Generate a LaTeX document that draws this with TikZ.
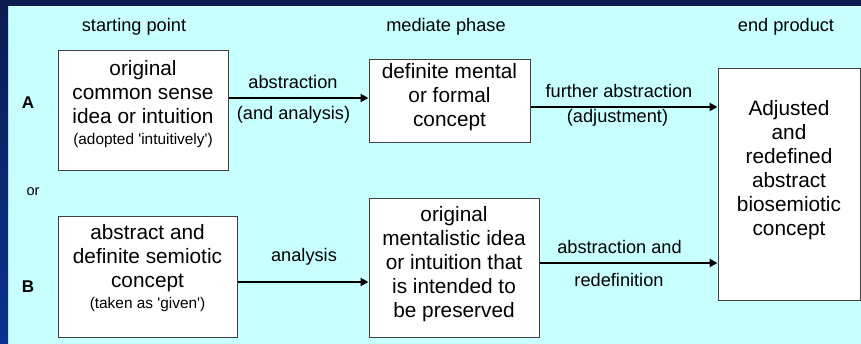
\documentclass[tikz,border=0pt]{standalone}
\usepackage{fontspec}
\setmainfont{Liberation Sans}
\usetikzlibrary{arrows.meta}
\definecolor{bgcyan}{RGB}{200,255,255}
\definecolor{navytop}{RGB}{10,28,80}
\definecolor{navybot}{RGB}{10,50,145}
\definecolor{boxline}{RGB}{64,64,64}
\begin{document}
\begin{tikzpicture}[x=1pt,y=-1pt,
  boxnode/.style={draw=boxline,line width=1pt,fill=white,inner sep=0pt},
  big/.style={font=\fontsize{20.8}{24}\selectfont,align=center,inner sep=0pt},
  lbl/.style={font=\fontsize{18.2}{21}\selectfont,inner sep=0pt},
  arr/.style={line width=2pt,-{Triangle[length=8pt,width=8pt]}}]
\useasboundingbox (0,0) rectangle (861,344);
\fill[bgcyan] (0,0) rectangle (861,344);
\fill[navytop] (0,0) rectangle (861,6);
\shade[top color=navytop,bottom color=navybot] (0,0) rectangle (8,344);
% headers
\node[lbl] (h1) at (134,27) {starting point};
\node[lbl] (h2) at (446,27) {mediate phase};
\node[lbl] (h3) at (786,27) {end product};
% row labels
\node[font=\fontsize{17}{20}\selectfont\bfseries,inner sep=0pt] (la) at (28,103) {A};
\node[font=\fontsize{17}{20}\selectfont\bfseries,inner sep=0pt] (lb) at (28,287) {B};
\node[font=\fontsize{14.6}{17}\selectfont,inner sep=0pt] (lor) at (33,192) {or};
% boxes
\node[boxnode,minimum width=170,minimum height=120] (a1) at (143,111) {};
\node[boxnode,minimum width=161,minimum height=83] (a2) at (449.5,101.5) {};
\node[boxnode,minimum width=179,minimum height=120] (b1) at (147.5,277) {};
\node[boxnode,minimum width=170,minimum height=138] (b2) at (454,268) {};
\node[boxnode,minimum width=142,minimum height=231] (e) at (789,184.5) {};
% box texts
\node[big] (ta1) at (143,104) {original\\common sense\\idea or intuition\\[-3pt]{\fontsize{15.4}{18}\selectfont (adopted \textquotesingle intuitively\textquotesingle)}};
\node[big] (ta2) at (449.5,97) {definite mental\\or formal\\concept};
\node[big] (tb1) at (147.5,268) {abstract and\\definite semiotic\\concept\\[-3pt]{\fontsize{15.4}{18}\selectfont (taken as \textquotesingle given\textquotesingle)}};
\node[big] (tb2) at (454,264) {original\\mentalistic idea\\or intuition that\\is intended to\\be preserved};
\node[big] (te) at (789,170) {Adjusted\\and\\redefined\\abstract\\biosemiotic\\concept};
% arrow rows
\coordinate (ya) at (0,98);
\coordinate (yb) at (0,107);
\coordinate (yc) at (0,282);
\coordinate (yd) at (0,263);
\draw[arr] (a1.east |- ya) -- (a2.west |- ya);
\draw[arr] (a2.east |- yb) -- (e.west |- yb);
\draw[arr] (b1.east |- yc) -- (b2.west |- yc);
\draw[arr] (b2.east |- yd) -- (e.west |- yd);
% arrow labels
\node[lbl] (l1) at (293,82) {abstraction};
\node[lbl] (l2) at (293.5,115) {(and analysis)};
\node[lbl] (l3) at (619,91) {further abstraction};
\node[lbl] (l4) at (617.5,118) {(adjustment)};
\node[lbl] (l5) at (304,257) {analysis};
\node[lbl] (l6) at (619.5,247) {abstraction and};
\node[lbl] (l7) at (619,280) {redefinition};
\end{tikzpicture}
\end{document}
